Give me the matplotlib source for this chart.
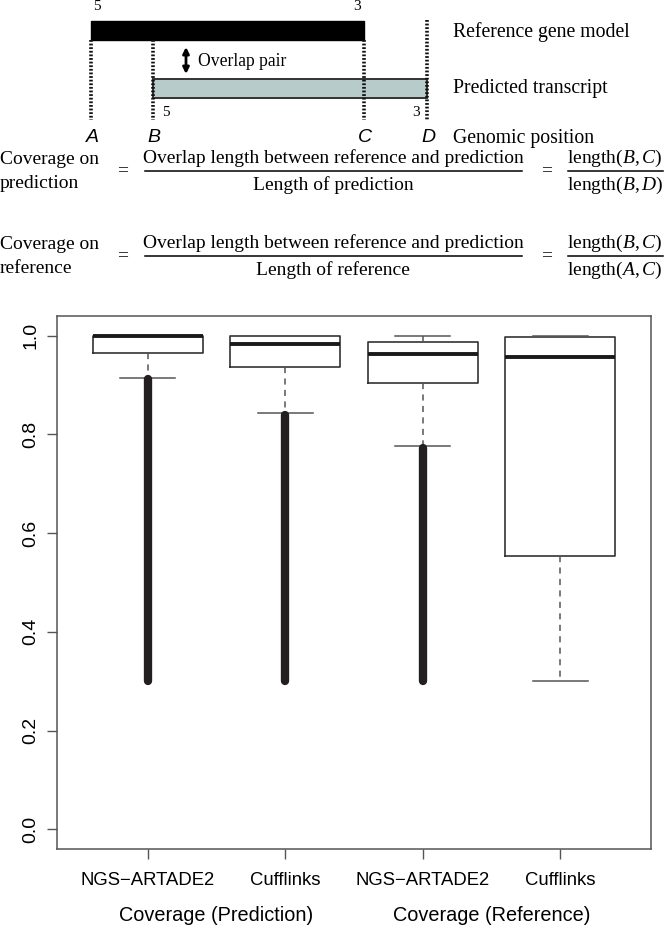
import matplotlib
matplotlib.use("Agg")
import matplotlib.pyplot as plt

# ---------------- data ----------------
categories = ["NGS\u2212ARTADE2", "Cufflinks", "NGS\u2212ARTADE2", "Cufflinks"]
group_labels = ["Coverage (Prediction)", "Coverage (Reference)"]
q1 = [0.966, 0.937, 0.905, 0.553]
median = [1.0, 0.984, 0.964, 0.957]
q3 = [1.0, 1.0, 0.988, 0.997]
whisker_low = [0.915, 0.843, 0.776, 0.300]
whisker_high = [1.0, 1.0, 1.0, 1.0]
# outliers are so dense they form a continuous column: range of outlier values
outlier_low = [0.300, 0.300, 0.300, None]
outlier_high = [0.912, 0.840, 0.773, None]
yticks = [0.0, 0.2, 0.4, 0.6, 0.8, 1.0]

plt.rcParams["mathtext.fontset"] = "custom"
plt.rcParams["mathtext.rm"] = "Liberation Serif"
plt.rcParams["mathtext.it"] = "Liberation Serif:italic"

W, H = 666, 930
fig = plt.figure(figsize=(W / 100, H / 100), dpi=100)

SANS = ["Liberation Sans", "DejaVu Sans"]
SERIF = ["Liberation Serif", "DejaVu Serif"]

# ---------------- box plot ----------------
ax = fig.add_axes([57 / W, 1 - 849 / H, (651 - 57) / W, (849 - 316) / H])
positions = list(range(1, len(categories) + 1))
stats = []
for i in range(len(categories)):
    stats.append(dict(med=median[i], q1=q1[i], q3=q3[i],
                      whislo=whisker_low[i], whishi=whisker_high[i], fliers=[]))
edge = "#333333"
ax.bxp(stats, positions=positions, widths=0.8, capwidths=0.4, showfliers=False,
       boxprops=dict(color=edge, linewidth=1.2),
       medianprops=dict(color="#1a1a1a", linewidth=2.8, solid_capstyle="butt"),
       whiskerprops=dict(color="#555555", linewidth=1.1, linestyle=(0, (4, 3.5))),
       capprops=dict(color="#555555", linewidth=1.1))
for p, lo, hi in zip(positions, outlier_low, outlier_high):
    if lo is not None:
        ax.vlines(p, lo, hi, color="#231f20", linewidth=6.0, capstyle="round", zorder=3)

ax.set_xlim(0.34, 4.66)
ax.set_ylim(-0.04, 1.04)
ax.set_yticks(yticks)
ax.set_yticklabels([f"{v:.1f}" for v in yticks], rotation=90, va="center",
                   fontfamily=SANS, fontsize=14)
ax.set_xticks(positions)
ax.set_xticklabels(categories, fontfamily=SANS, fontsize=13.3)
ax.tick_params(axis="both", length=7.5, width=1.0, color="#555555", direction="out")
ax.tick_params(axis="y", pad=5)
ax.tick_params(axis="x", pad=9)
for s in ax.spines.values():
    s.set_color("#555555")
    s.set_linewidth(1.1)

# ---------------- overlay for diagram / formulas ----------------
ov = fig.add_axes([0, 0, 1, 1], zorder=-1)
ov.set_xlim(0, W)
ov.set_ylim(H, 0)
ov.axis("off")

# group labels under box plot
ov.text(216, 915, group_labels[0], ha="center", va="center", fontsize=14.3, family=SANS)
ov.text(492, 915, group_labels[1], ha="center", va="center", fontsize=14.3, family=SANS)

# gene model diagram
xA, xB, xC, xD = 91, 153, 364, 427
ov.add_patch(plt.Rectangle((xA, 21), xC - xA, 19, facecolor="black", edgecolor="black"))
ov.add_patch(plt.Rectangle((xB, 79), xD - xB, 19, facecolor="#b7cbcb",
                           edgecolor="#333333", linewidth=1.4))
dot = dict(color="#111111", linewidth=2.6, linestyle=(0, (0.5, 0.5)))
ov.plot([xA, xA], [40, 120], **dot)
ov.plot([xB, xB], [40, 120], **dot)
ov.plot([xC, xC], [40, 120], **dot)
ov.plot([xD, xD], [20, 120], **dot)
ov.text(97, 7, "5", ha="center", va="center", fontsize=11, family=SERIF)
ov.text(357, 7, "3", ha="center", va="center", fontsize=11, family=SERIF)
ov.text(166, 113, "5", ha="center", va="center", fontsize=11, family=SERIF)
ov.text(416, 113, "3", ha="center", va="center", fontsize=11, family=SERIF)
ov.annotate("", xy=(186, 47), xytext=(186, 74),
            arrowprops=dict(arrowstyle="<|-|>", color="black", lw=2.0,
                            mutation_scale=9, shrinkA=0, shrinkB=0))
ov.text(198, 61, "Overlap pair", ha="left", va="center", fontsize=12.7, family=SERIF)
for x, l in zip([xA, xB, xC, xD], ["A", "B", "C", "D"]):
    ov.text(x + 1, 138, l, ha="center", va="center", fontsize=14, family=SANS,
            style="italic")
ov.text(453, 32, "Reference gene model", ha="left", va="center", fontsize=14.2, family=SERIF)
ov.text(453, 88, "Predicted transcript", ha="left", va="center", fontsize=14.2, family=SERIF)
ov.text(453, 138, "Genomic position", ha="left", va="center", fontsize=14.2, family=SERIF)

# formulas
FS = 14.0
def formula_row(yc, name2, den1, den2):
    ov.text(0, yc - 12, "Coverage on", ha="left", va="center", fontsize=FS, family=SERIF)
    ov.text(0, yc + 12, name2, ha="left", va="center", fontsize=FS, family=SERIF)
    ov.text(123, yc, "=", ha="center", va="center", fontsize=FS, family=SERIF)
    ov.text(333, yc - 13, "Overlap length between reference and prediction",
            ha="center", va="center", fontsize=FS, family=SERIF)
    ov.plot([145, 522], [yc, yc], color="black", lw=1.1)
    ov.text(333, yc + 14, den1, ha="center", va="center", fontsize=FS, family=SERIF)
    ov.text(547, yc, "=", ha="center", va="center", fontsize=FS, family=SERIF)
    ov.text(615, yc - 13, r"$\mathrm{length}(B,C)$", ha="center", va="center", fontsize=FS)
    ov.plot([568, 663], [yc, yc], color="black", lw=1.1)
    ov.text(615, yc + 14, den2, ha="center", va="center", fontsize=FS)

formula_row(171, "prediction", "Length of prediction", r"$\mathrm{length}(B,D)$")
formula_row(256, "reference", "Length of reference", r"$\mathrm{length}(A,C)$")

fig.savefig("out.png", dpi=100, facecolor="white")
